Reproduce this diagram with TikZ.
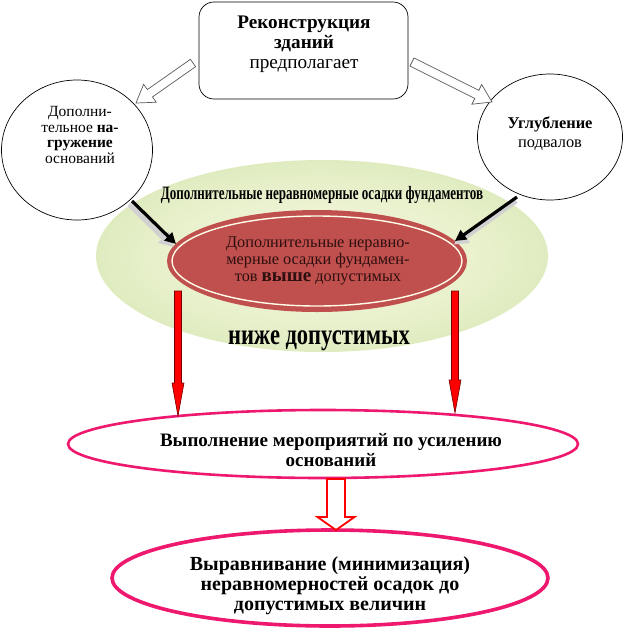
\documentclass[tikz,border=0pt]{standalone}
\usepackage{fontspec}
\setmainfont{Liberation Serif}
\usetikzlibrary{calc,shapes.geometric,arrows.meta}

\definecolor{pinkline}{RGB}{238,24,110}
\definecolor{redfill}{RGB}{192,80,77}
\definecolor{greenout}{RGB}{200,223,160}
\definecolor{greenin}{RGB}{250,250,228}
\definecolor{darktxt}{RGB}{45,15,15}
\definecolor{hollowgray}{RGB}{90,90,90}

\pgfdeclareradialshading{greenrad}{\pgfpoint{0bp}{0bp}}{color(0bp)=(greenin); color(22bp)=(greenin!55!greenout); color(40bp)=(greenout); color(50bp)=(greenout)}

\newcommand\blockarr[6]{%
  \coordinate (tmpH) at ($(#3)!#6!(#2)$);
  \draw[#1] ($(#2)!#4!90:(#3)$) -- ($(tmpH)!#4!90:(#3)$) -- ($(tmpH)!#5!90:(#3)$) -- (#3)
    -- ($(tmpH)!#5!-90:(#3)$) -- ($(tmpH)!#4!-90:(#3)$) -- ($(#2)!#4!-90:(#3)$) -- cycle;}

\tikzset{
  thinline/.style={draw=black, line width=0.7pt},
  hollowarr/.style={draw=hollowgray, fill=white, line width=0.7pt, line join=miter},
  redarr/.style={draw=red!45!black, fill=red, line width=0.6pt},
  redhollow/.style={draw=red, fill=white, line width=1.8pt, line join=miter},
  blackarr/.style={line width=3.2pt, -{Triangle[length=11pt,width=11pt]}},
  glowarr/.style={line width=6pt, draw=black!18, -{Triangle[length=14pt,width=15pt]}},
  pinkell/.style={ellipse, draw=pinkline, inner sep=0pt},
}

\begin{document}
\begin{tikzpicture}[x=1pt,y=-1pt]
\useasboundingbox (0,0) rectangle (627,633);
\fill[white] (0,0) rectangle (627,633);

% green ellipse
\node[ellipse, minimum width=452pt, minimum height=192pt, inner sep=0pt, shading=greenrad] (G) at (322,256) {};

% red ellipse
\node[ellipse, minimum width=300pt, minimum height=102pt, inner sep=0pt, fill=redfill] (E) at (317,261) {};
\draw[white!92!yellow, line width=1.4pt] (E.center) ellipse [x radius=145, y radius=45];
\node[align=center, text=darktxt, font=\fontsize{16.3}{17}\selectfont] (Et) at (318,261)
  {Дополнительные неравно-\\мерные осадки фундамен-\\тов {\bfseries\fontsize{19}{17}\selectfont выше} допустимых};

% WordArt texts on the green ellipse
\node[text=black, font=\bfseries\fontsize{14}{16}\selectfont, xscale=0.93, yscale=1.35] (Gt) at (322,195) {Дополнительные неравномерные осадки фундаментов};
\node[text=black, font=\bfseries\fontsize{22.5}{24}\selectfont, yscale=1.3] (Gb) at (319,341) {ниже допустимых};

% top box
\node[thinline, rounded corners=15pt, minimum width=209pt, minimum height=97pt] (T) at (303.5,50.5) {};
\node[align=center, font=\fontsize{19.2}{20}\selectfont] (Tt) at (304,44)
  {\textbf{Реконструкция}\\\textbf{зданий}\\предполагает};

% left circle
\node[thinline, ellipse, minimum width=151pt, minimum height=140pt] (L) at (77,150) {};
\node[align=center, font=\fontsize{15.5}{15.5}\selectfont] (Lt) at (80,135)
  {Дополни-\\тельное \textbf{на-}\\\textbf{гружение}\\оснований};

% right circle
\node[thinline, ellipse, minimum width=145pt, minimum height=126pt] (R) at (550,137) {};
\node[align=center, font=\fontsize{16.4}{19}\selectfont] (Rt) at (550,134)
  {\textbf{Углубление}\\подвалов};

% hollow arrows from the top box
\coordinate (hL1) at (193,63);  \coordinate (hL2) at (136,103);
\coordinate (hR1) at (412,62);  \coordinate (hR2) at (492,102);
\blockarr{hollowarr}{hL1}{hL2}{4.5pt}{11pt}{17pt}
\blockarr{hollowarr}{hR1}{hR2}{4.5pt}{11pt}{17pt}

% black arrows with glow
\coordinate (kL1) at (132,201); \coordinate (kL2) at (176,244);
\coordinate (kR1) at (517,197); \coordinate (kR2) at (455,241);
\draw[glowarr] ([shift={(-2.5,3)}]kL1) -- ([shift={(-2.5,3)}]kL2);
\draw[glowarr] ([shift={(-1,3.5)}]kR1) -- ([shift={(-1,3.5)}]kR2);
\draw[blackarr] (kL1) -- (kL2);
\draw[blackarr] (kR1) -- (kR2);

% middle ellipse
\node[pinkell, line width=2.6pt, minimum width=510pt, minimum height=68pt] (M) at (323,444) {};
\node[align=center, font=\bfseries\fontsize{19}{20}\selectfont] (Mt) at (331,450)
  {Выполнение мероприятий по усилению\\оснований};

% red arrows down
\coordinate (rL1) at (178,291); \coordinate (rL2) at (178,416);
\coordinate (rR1) at (455,291); \coordinate (rR2) at (455,413);
\blockarr{redarr}{rL1}{rL2}{3.5pt}{6pt}{33pt}
\blockarr{redarr}{rR1}{rR2}{3.5pt}{6pt}{33pt}

% bottom ellipse
\node[pinkell, line width=3.6pt, minimum width=436pt, minimum height=96pt] (B) at (330,578) {};
\node[align=center, font=\bfseries\fontsize{20}{20}\selectfont] (Bt) at (330,586)
  {Выравнивание (минимизация)\\неравномерностей осадок до\\допустимых величин};

% hollow red arrow
\coordinate (mB1) at (336,479); \coordinate (mB2) at (336,530);
\blockarr{redhollow}{mB1}{mB2}{9pt}{18.5pt}{13pt}
\end{tikzpicture}
\end{document}
